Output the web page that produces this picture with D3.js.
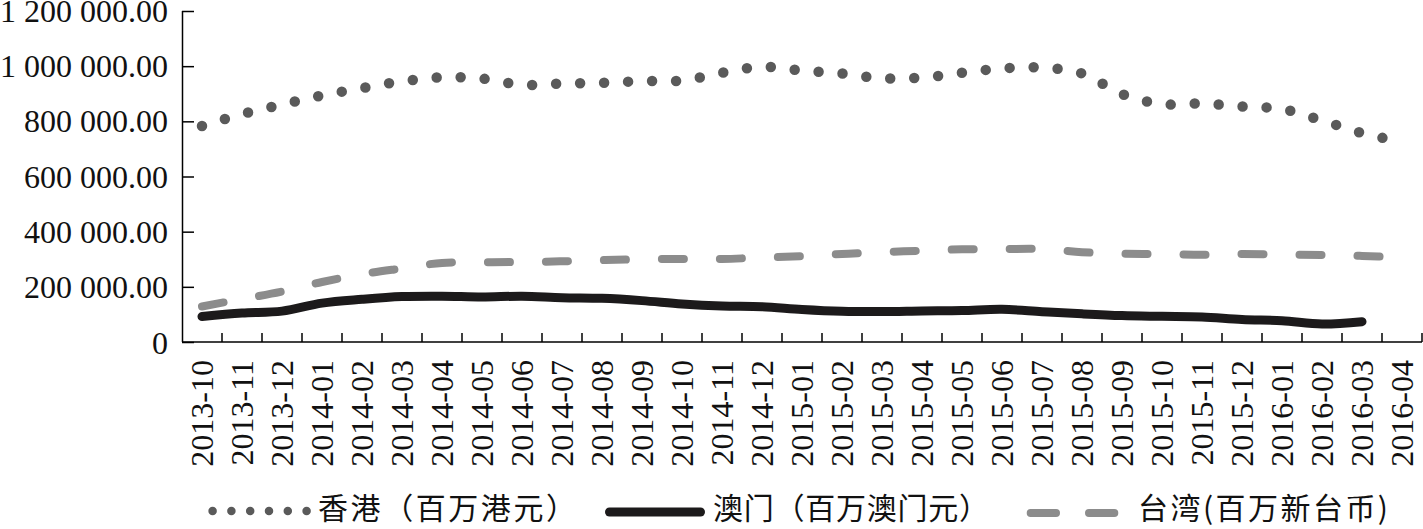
<!DOCTYPE html>
<html>
<head>
<meta charset="utf-8">
<script src="https://cdn.jsdelivr.net/npm/d3@7"></script>
<style>
  html, body { margin: 0; padding: 0; background: #fff; }
  svg { display: block; }
</style>
</head>
<body>
<svg id="chart" width="1423" height="529"></svg>
<script>
const categories = ["2013-10","2013-11","2013-12","2014-01","2014-02","2014-03","2014-04","2014-05","2014-06","2014-07","2014-08","2014-09","2014-10","2014-11","2014-12","2015-01","2015-02","2015-03","2015-04","2015-05","2015-06","2015-07","2015-08","2015-09","2015-10","2015-11","2015-12","2016-01","2016-02","2016-03","2016-04"];
const hongKong = [783000, 826600, 861000, 893600, 920800, 944800, 959600, 955000, 932800, 936800, 939700, 945900, 948000, 976000, 997700, 984000, 973800, 956000, 958600, 976000, 992000, 994800, 973800, 899000, 862500, 864600, 854000, 844700, 803400, 757700, 725000];
const macau = [92400, 105000, 112000, 141000, 154800, 164600, 166000, 163000, 166000, 160600, 158400, 150000, 137800, 130500, 128000, 117800, 111300, 110200, 112400, 114000, 118500, 110000, 102000, 95700, 93000, 90600, 81200, 77200, 65300, 73600, null];
const taiwan = [128700, 156000, 182700, 217500, 245800, 267000, 286800, 289000, 290000, 292600, 297000, 299800, 301000, 301000, 306000, 311000, 319000, 326000, 330600, 336000, 337000, 337000, 325600, 319800, 319000, 316500, 318700, 317000, 315400, 312000, 306000];
const seriesNames = ["香港（百万港元）", "澳门（百万澳门元）", "台湾(百万新台币)"];
const yTicks = [0, 200000, 400000, 600000, 800000, 1000000, 1200000];
const yTickLabels = ["0", "200 000.00", "400 000.00", "600 000.00", "800 000.00", "1 000 000.00", "1 200 000.00"];

const svg = d3.select("#chart");
const plotLeft = 182, plotRight = 1422, plotTop = 11, plotBottom = 342;

const x = d3.scaleBand().domain(categories).range([plotLeft, plotRight]).paddingInner(0).paddingOuter(0);
const y = d3.scaleLinear().domain([0, 1200000]).range([plotBottom, plotTop]);
const cx = d => x(d) + x.bandwidth() / 2;

const serif = "'Liberation Serif', 'Times New Roman', serif";
const cjk = "'Noto Sans CJK SC', 'Noto Sans CJK JP', sans-serif";

// Y axis
const yAxis = d3.axisLeft(y).tickValues(yTicks).tickSize(-12).tickPadding(26)
  .tickFormat((d, i) => yTickLabels[i]);
const gy = svg.append("g").attr("transform", `translate(${plotLeft},0)`).call(yAxis);
gy.select(".domain").attr("stroke", "#000").attr("stroke-width", 1.5).attr("d", `M0.5,${plotTop}V${plotBottom}`);
gy.selectAll(".tick line").attr("stroke", "#000").attr("stroke-width", 1.5);
gy.selectAll(".tick text").attr("font-family", serif).attr("font-size", 32).attr("fill", "#111")
  .attr("x", -14).attr("dy", (d) => d === 0 ? "0.36em" : "0.33em");

// X axis with ticks at band boundaries
const gx = svg.append("g").attr("transform", `translate(0,${plotBottom})`);
gx.append("line").attr("x1", plotLeft).attr("x2", plotRight).attr("y1", 0).attr("y2", 0)
  .attr("stroke", "#000").attr("stroke-width", 1.5);
const boundaries = categories.map(c => x(c) + x.bandwidth());
gx.selectAll(".xt").data(boundaries).enter().append("line")
  .attr("x1", d => d).attr("x2", d => d).attr("y1", 0).attr("y2", -9)
  .attr("stroke", "#000").attr("stroke-width", 1.5);
gx.selectAll(".xl").data(categories).enter().append("text")
  .attr("transform", d => `translate(${cx(d)},18) rotate(-90)`)
  .attr("text-anchor", "end").attr("dy", "0.34em")
  .attr("font-family", serif).attr("font-size", 32).attr("fill", "#111")
  .text(d => d);

// Lines
const line = d3.line()
  .defined(d => d.v !== null)
  .x(d => cx(d.c)).y(d => y(d.v))
  .curve(d3.curveCatmullRom.alpha(0.5));
const toPts = arr => arr.map((v, i) => ({c: categories[i], v}));

svg.append("path").attr("d", line(toPts(taiwan))).attr("fill", "none")
  .attr("stroke", "#8c8c8c").attr("stroke-width", 8).attr("stroke-linecap", "round")
  .attr("stroke-dasharray", "22,36");
svg.append("path").attr("d", line(toPts(macau))).attr("fill", "none")
  .attr("stroke", "#1c1a1b").attr("stroke-width", 9).attr("stroke-linecap", "round");
svg.append("path").attr("d", line(toPts(hongKong))).attr("fill", "none")
  .attr("stroke", "#5a5a5a").attr("stroke-width", 10.5).attr("stroke-linecap", "round")
  .attr("stroke-dasharray", "0,24");

// Legend
const lg = svg.append("g");
const ly = 511;
const lBase = 519;
lg.append("line").attr("x1", 212.6).attr("x2", 307.2).attr("y1", ly).attr("y2", ly)
  .attr("stroke", "#5a5a5a").attr("stroke-width", 8.5).attr("stroke-linecap", "round")
  .attr("stroke-dasharray", "0,18.8");
lg.append("text").attr("x", 318).attr("y", lBase)
  .attr("textLength", 258).attr("lengthAdjust", "spacing")
  .attr("font-family", cjk).attr("font-size", 30).attr("fill", "#111").text(seriesNames[0]);
lg.append("line").attr("x1", 609.5).attr("x2", 700.5).attr("y1", ly + 1).attr("y2", ly + 1)
  .attr("stroke", "#1c1a1b").attr("stroke-width", 9).attr("stroke-linecap", "round");
lg.append("text").attr("x", 713).attr("y", lBase)
  .attr("textLength", 276).attr("lengthAdjust", "spacing")
  .attr("font-family", cjk).attr("font-size", 30).attr("fill", "#111").text(seriesNames[1]);
lg.append("line").attr("x1", 1030.7).attr("x2", 1114.3).attr("y1", ly + 2).attr("y2", ly + 2)
  .attr("stroke", "#8c8c8c").attr("stroke-width", 8).attr("stroke-linecap", "round")
  .attr("stroke-dasharray", "25.3,33");
lg.append("text").attr("x", 1138).attr("y", lBase)
  .attr("textLength", 250).attr("lengthAdjust", "spacing")
  .attr("font-family", cjk).attr("font-size", 30).attr("fill", "#111").text(seriesNames[2]);
</script>
</body>
</html>
